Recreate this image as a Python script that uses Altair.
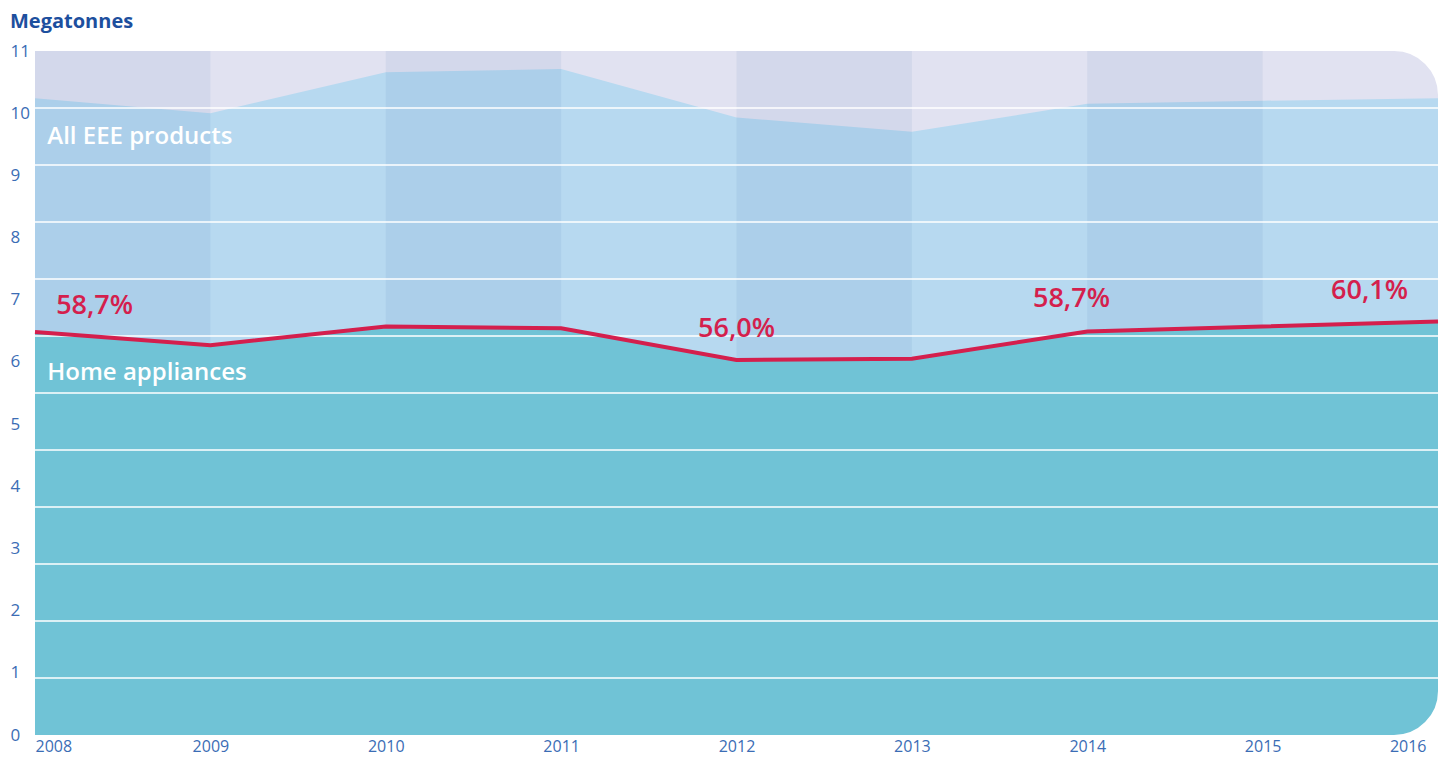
import altair as alt
import pandas as pd

# ---- data ----
years = [2008, 2009, 2010, 2011, 2012, 2013, 2014, 2015, 2016]
all_eee = [10.24, 10.00, 10.66, 10.71, 9.93, 9.70, 10.15, 10.20, 10.24]
home_appliances = [6.48, 6.27, 6.57, 6.54, 6.03, 6.05, 6.49, 6.57, 6.65]

share_labels = ["58,7%", "56,0%", "58,7%", "60,1%"]
share_label_x = [2008.34, 2012.0, 2013.91, 2015.61]
share_label_y = [6.90, 6.53, 7.01, 7.14]

series_labels = ["All EEE products", "Home appliances"]
series_label_x = [2008.07, 2008.07]
series_label_y = [9.62, 5.82]

band_starts = [2008, 2010, 2012, 2014]
y_ticks = list(range(0, 12))
grid_levels = [11 * k / 12 for k in range(1, 12)]

W, H = 1403, 684
FONT = "Open Sans"

df = pd.DataFrame({"year": years, "all": all_eee, "home": home_appliances})
bands = pd.DataFrame({"start": band_starts, "end": [b + 1 for b in band_starts]})
grid = pd.DataFrame({"level": grid_levels})
shares = pd.DataFrame({"x": share_label_x, "y": share_label_y, "t": share_labels})
slabels = pd.DataFrame({"x": series_label_x, "y": series_label_y, "t": series_labels})
one = pd.DataFrame({"a": [0]})

xs = alt.Scale(domain=[2008, 2016], nice=False, zero=False)
ys = alt.Scale(domain=[0, 11], nice=False)

x_axis = alt.Axis(values=years, format="d", grid=False, ticks=False, domain=False,
                  labelColor="#3b6db5", labelFont=FONT, labelFontSize=16,
                  labelPadding=3,
                  labelOffset={"condition": {"test": "datum.value === 2016", "value": -12}, "value": 0},
                  title=None)
y_axis = alt.Axis(values=y_ticks, grid=False, ticks=False, domain=False,
                  labelColor="#3b6db5", labelFont=FONT, labelFontSize=17,
                  labelAlign="left", labelPadding=25, title=None)

X = alt.X("year:Q", scale=xs, axis=x_axis)

background = alt.Chart(df).mark_rect(color="#e1e2f1").encode(
    x=alt.X("min(year):Q", scale=xs, axis=x_axis),
    x2="max(year):Q",
    y=alt.Y("zero:Q", scale=ys, axis=y_axis),
    y2="top:Q",
).transform_calculate(zero="0", top="11")

eee_area = alt.Chart(df).mark_area(color="#b7d9f0", opacity=1).encode(
    x=X, y=alt.Y("all:Q", scale=ys, axis=y_axis)
)

band_layer = alt.Chart(bands).mark_rect(color="#1f5a9e", opacity=0.07).encode(
    x=alt.X("start:Q", scale=xs, axis=x_axis),
    x2="end:Q",
    y=alt.value(0),
    y2=alt.value(H),
)

home_area = alt.Chart(df).mark_area(color="#70c3d6", opacity=1).encode(
    x=X, y=alt.Y("home:Q", scale=ys, axis=y_axis)
)

grid_layer = alt.Chart(grid).mark_rule(color="white", strokeWidth=1.5).encode(
    y=alt.Y("level:Q", scale=ys, axis=y_axis),
    x=alt.value(0),
    x2=alt.value(W),
)

line = alt.Chart(df).mark_line(color="#d41f4d", strokeWidth=4).encode(
    x=X, y=alt.Y("home:Q", scale=ys, axis=y_axis)
)

share_text = alt.Chart(shares).mark_text(
    color="#d41f4d", font=FONT, fontSize=27, fontWeight=600, align="center", baseline="middle"
).encode(
    x=alt.X("x:Q", scale=xs, axis=x_axis),
    y=alt.Y("y:Q", scale=ys, axis=y_axis),
    text="t:N",
)

series_text = alt.Chart(slabels).mark_text(
    color="white", font=FONT, fontSize=24, fontWeight=600, align="left", baseline="middle"
).encode(
    x=alt.X("x:Q", scale=xs, axis=x_axis),
    y=alt.Y("y:Q", scale=ys, axis=y_axis),
    text="t:N",
)

# white mask that rounds the top-right and bottom-right corners of the plot
mask = alt.Chart(one).mark_rect(
    fillOpacity=0, stroke="white", strokeWidth=64, clip=True,
    cornerRadiusTopRight=76, cornerRadiusBottomRight=76,
).encode(
    x=alt.value(-300), x2=alt.value(W + 32),
    y=alt.value(-32), y2=alt.value(H + 32),
)

title = alt.Chart(one).mark_text(
    text="Megatonnes", color="#1d4f9e", font=FONT, fontSize=20, fontWeight=700,
    align="left", baseline="middle"
).encode(x=alt.value(-25), y=alt.value(-29))

chart = alt.layer(
    background, eee_area, band_layer, home_area, grid_layer, line,
    share_text, series_text, mask, title
).properties(
    width=W, height=H,
    autosize=alt.AutoSizeParams(type="none"),
    padding={"left": 27, "top": 43, "right": 6, "bottom": 24},
).configure_view(stroke=None)

chart.save("out.html", embed_options={"renderer": "svg", "actions": False})
